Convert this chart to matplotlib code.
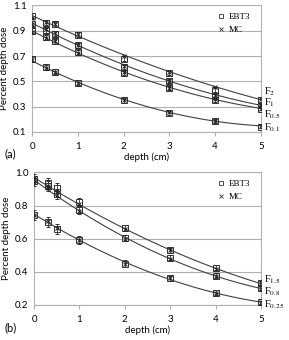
import numpy as np
import matplotlib
matplotlib.use('Agg')
import matplotlib.pyplot as plt
from matplotlib.lines import Line2D

depth = [0, 0.3, 0.5, 1, 2, 3, 4, 5]

# panel (a)
a_names = ['F$_{2}$', 'F$_{1}$', 'F$_{0.5}$', 'F$_{0.1}$']
a_ebt3 = [
    [1.02, 0.965, 0.95, 0.87, 0.68, 0.565, 0.43, 0.35],
    [0.955, 0.905, 0.875, 0.785, 0.615, 0.50, 0.385, 0.31],
    [0.90, 0.85, 0.815, 0.73, 0.565, 0.445, 0.35, 0.285],
    [0.675, 0.61, 0.575, 0.49, 0.35, 0.25, 0.185, 0.14],
]
a_mc = [
    [1.00, 0.97, 0.955, 0.875, 0.70, 0.57, 0.455, 0.36],
    [0.95, 0.91, 0.88, 0.79, 0.62, 0.505, 0.395, 0.31],
    [0.89, 0.845, 0.82, 0.725, 0.57, 0.45, 0.36, 0.285],
    [0.665, 0.605, 0.575, 0.49, 0.355, 0.255, 0.19, 0.145],
]
a_err = [0.02, 0.02, 0.02, 0.018, 0.018, 0.015, 0.015, 0.012]

# panel (b)
b_names = ['F$_{1.5}$', 'F$_{0.8}$', 'F$_{0.25}$']
b_ebt3 = [
    [0.96, 0.935, 0.905, 0.82, 0.665, 0.53, 0.425, 0.33],
    [0.95, 0.915, 0.87, 0.775, 0.605, 0.485, 0.375, 0.30],
    [0.745, 0.70, 0.66, 0.59, 0.45, 0.36, 0.275, 0.215],
]
b_mc = [
    [0.965, 0.92, 0.885, 0.81, 0.66, 0.53, 0.42, 0.33],
    [0.94, 0.905, 0.865, 0.77, 0.60, 0.48, 0.375, 0.30],
    [0.745, 0.705, 0.665, 0.59, 0.45, 0.36, 0.275, 0.215],
]
b_err = [0.03, 0.03, 0.03, 0.025, 0.02, 0.015, 0.015, 0.012]

plt.rcParams['font.family'] = ['Lato', 'DejaVu Sans']
plt.rcParams['font.serif'] = ['Liberation Serif']
plt.rcParams['mathtext.fontset'] = 'stix'

fig = plt.figure(figsize=(2.89, 3.40), dpi=100)
ax1 = fig.add_axes([0.111, 0.612, 0.792, 0.372])
ax2 = fig.add_axes([0.118, 0.103, 0.785, 0.390])

grey = '#b0b0b0'
dark = '#303030'

def draw(ax, ebt3, mc, err, names, label_y, ylim, yticks):
    xs = np.linspace(0, 5, 100)
    for i in range(len(ebt3)):
        # trend line fitted to the MC points
        c = np.polyfit(depth, mc[i], 2)
        ax.plot(xs, np.polyval(c, xs), color='#404040', lw=0.8, zorder=2)
        ax.errorbar(depth, ebt3[i], yerr=err, fmt='s', mfc='none', mec=dark,
                    ms=4, mew=0.7, ecolor=dark, elinewidth=0.6, capsize=1.5,
                    capthick=0.6, zorder=3)
        ax.plot(depth, mc[i], 'x', color='#202020', ms=3.5, mew=0.7, zorder=4)
        ax.text(5.06, label_y[i], names[i], fontsize=7.5, family='serif',
                va='center', ha='left', clip_on=False)
    ax.set_xlim(0, 5)
    ax.set_ylim(*ylim)
    ax.set_yticks(yticks)
    ax.set_xticks(range(6))
    ax.grid(axis='y', color=grey, lw=0.8)
    ax.set_axisbelow(True)
    for s in ax.spines.values():
        s.set_color(grey)
        s.set_linewidth(0.8)
    ax.tick_params(axis='y', length=0, labelsize=7, pad=4)
    ax.tick_params(axis='x', length=3, color=grey, labelsize=7, pad=4)
    ax.set_ylabel('Percent depth dose', fontsize=7, labelpad=3)
    ax.set_xlabel('depth (cm)', fontsize=7, labelpad=1)
    handles = [Line2D([], [], marker='s', ls='none', mfc='none', mec=dark, ms=3, mew=0.6),
               Line2D([], [], marker='x', ls='none', color=dark, ms=3, mew=0.6)]
    ax.legend(handles, ['EBT3', 'MC'], loc='upper right', bbox_to_anchor=(0.98, 0.99),
              frameon=False, prop={'family': 'serif', 'size': 6.5},
              handletextpad=0.3, borderaxespad=0.3, labelspacing=0.5, handlelength=1.0)

draw(ax1, a_ebt3, a_mc, a_err, a_names, [0.42, 0.33, 0.235, 0.13], (0.1, 1.1),
     [0.1, 0.3, 0.5, 0.7, 0.9, 1.1])
draw(ax2, b_ebt3, b_mc, b_err, b_names, [0.35, 0.28, 0.20], (0.2, 1.0),
     [0.2, 0.4, 0.6, 0.8, 1.0])

fig.text(0.015, 0.537, '(a)', fontsize=8)
fig.text(0.015, 0.025, '(b)', fontsize=8)

fig.savefig('out.png', dpi=100)
